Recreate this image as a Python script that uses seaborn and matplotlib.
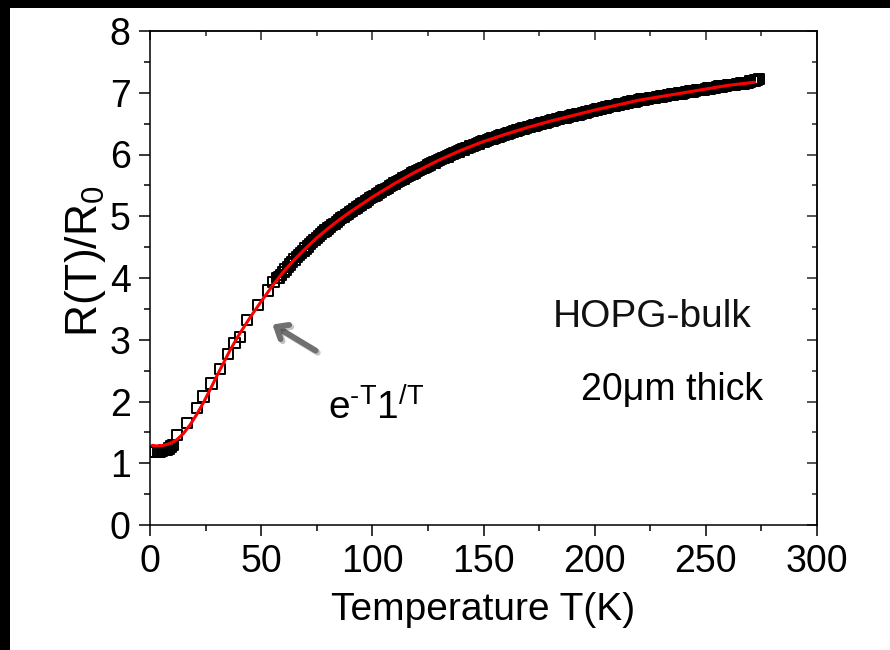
import matplotlib
matplotlib.use("Agg")
import matplotlib.pyplot as plt
import matplotlib.patheffects as pe
from matplotlib.patches import Rectangle
from matplotlib.ticker import MultipleLocator
import seaborn as sns

# ---- data ----
# sparse low-temperature measurements
T_low = [1.5, 2.5, 3.5, 4.5, 5.5, 6.5, 7.5, 8.5, 9.5, 10.5, 12.0, 16.5, 21.0, 24.0,
         27.7, 31.5, 35.0, 38.0, 40.5, 43.5, 48.7, 53.2, 55.5, 57.0]
R_low = [1.19, 1.18, 1.19, 1.19, 1.20, 1.21, 1.22, 1.24, 1.27, 1.30, 1.46, 1.65, 1.89, 2.08,
         2.29, 2.53, 2.77, 2.95, 3.05, 3.32, 3.56, 3.80, 3.94, 4.00]

# dense measurements (58 K .. 274 K)
T_dense = [58, 59, 60, 61, 62, 63, 64, 65, 66, 67, 68, 69, 70, 71, 72, 73, 74, 75, 76, 77,
           78, 79, 80, 81, 82, 83, 84, 85, 86, 87, 88, 89, 90, 91, 92, 93, 94, 95, 96, 97,
           98, 99, 100, 101, 102, 103, 104, 105, 106, 107, 108, 109, 110, 111, 112, 113,
           114, 115, 116, 117, 118, 119, 120, 121, 122, 123, 124, 125, 126, 127, 128, 129,
           130, 131, 132, 133, 134, 135, 136, 137, 138, 139, 140, 141, 142, 143, 144, 145,
           146, 147, 148, 149, 150, 151, 152, 153, 154, 155, 156, 157, 158, 159, 160, 161,
           162, 163, 164, 165, 166, 167, 168, 169, 170, 171, 172, 173, 174, 175, 176, 177,
           178, 179, 180, 181, 182, 183, 184, 185, 186, 187, 188, 189, 190, 191, 192, 193,
           194, 195, 196, 197, 198, 199, 200, 201, 202, 203, 204, 205, 206, 207, 208, 209,
           210, 211, 212, 213, 214, 215, 216, 217, 218, 219, 220, 221, 222, 223, 224, 225,
           226, 227, 228, 229, 230, 231, 232, 233, 234, 235, 236, 237, 238, 239, 240, 241,
           242, 243, 244, 245, 246, 247, 248, 249, 250, 251, 252, 253, 254, 255, 256, 257,
           258, 259, 260, 261, 262, 263, 264, 265, 266, 267, 268, 269, 270, 271, 272, 273, 274]
R_dense = [4.01, 4.05, 4.10,
           4.14, 4.18, 4.22, 4.26, 4.30, 4.34, 4.37, 4.41, 4.44, 4.48,
           4.51, 4.55, 4.58, 4.62, 4.65, 4.68, 4.71, 4.74, 4.77, 4.80,
           4.83, 4.86, 4.88, 4.91, 4.94, 4.97, 4.99, 5.02, 5.04, 5.07,
           5.09, 5.12, 5.14, 5.17, 5.19, 5.21, 5.24, 5.26, 5.29, 5.31,
           5.33, 5.35, 5.38, 5.40, 5.42, 5.44, 5.46, 5.49, 5.51, 5.53,
           5.55, 5.57, 5.59, 5.61, 5.63, 5.65, 5.67, 5.69, 5.71, 5.73,
           5.75, 5.77, 5.78, 5.80, 5.82, 5.84, 5.86, 5.87, 5.89, 5.91,
           5.93, 5.94, 5.96, 5.97, 5.99, 6.01, 6.02, 6.04, 6.05, 6.07,
           6.08, 6.10, 6.11, 6.13, 6.14, 6.15, 6.17, 6.18, 6.20, 6.21,
           6.22, 6.23, 6.25, 6.26, 6.27, 6.28, 6.29, 6.31, 6.32, 6.33,
           6.34, 6.35, 6.37, 6.38, 6.39, 6.40, 6.41, 6.42, 6.43, 6.44,
           6.45, 6.46, 6.47, 6.48, 6.49, 6.50, 6.51, 6.52, 6.53, 6.54,
           6.55, 6.56, 6.57, 6.58, 6.59, 6.60, 6.60, 6.61, 6.62, 6.63,
           6.64, 6.65, 6.65, 6.66, 6.67, 6.68, 6.69, 6.70, 6.71, 6.72,
           6.73, 6.74, 6.74, 6.75, 6.76, 6.77, 6.78, 6.78, 6.79, 6.80,
           6.81, 6.82, 6.82, 6.83, 6.84, 6.85, 6.86, 6.86, 6.87, 6.88,
           6.89, 6.89, 6.90, 6.90, 6.91, 6.92, 6.92, 6.93, 6.93, 6.94,
           6.95, 6.95, 6.96, 6.96, 6.97, 6.98, 6.98, 6.99, 6.99, 7.00,
           7.01, 7.01, 7.02, 7.02, 7.03, 7.04, 7.04, 7.05, 7.05, 7.06,
           7.07, 7.07, 7.08, 7.08, 7.09, 7.10, 7.10, 7.11, 7.11, 7.12,
           7.12, 7.13, 7.13, 7.14, 7.14, 7.15, 7.15, 7.16, 7.16, 7.18,
           7.19, 7.20, 7.21, 7.22]

# fitted curve (red)
T_fit = [1, 3, 6, 9, 12, 15, 18, 21, 24, 27, 30, 33, 36, 40, 45, 50, 55, 60, 65, 70, 75,
         80, 85, 90, 95, 100, 110, 120, 130, 140, 150, 160, 170, 180, 190, 200, 210, 220,
         230, 240, 250, 260, 272]
R_fit = [1.29, 1.28, 1.29, 1.32, 1.38, 1.48, 1.62, 1.79, 1.98, 2.19, 2.41, 2.62, 2.83,
         3.08, 3.36, 3.62, 3.87, 4.10, 4.30, 4.48, 4.65, 4.80, 4.94, 5.07, 5.19, 5.31,
         5.53, 5.73, 5.91, 6.07, 6.21, 6.33, 6.44, 6.54, 6.63, 6.72, 6.80, 6.88, 6.94,
         7.00, 7.06, 7.12, 7.17]

x_ticks = [0, 50, 100, 150, 200, 250, 300]
y_ticks = [0, 1, 2, 3, 4, 5, 6, 7, 8]

# ---- style ----
sns.set_theme(style="ticks")
plt.rcParams["font.family"] = ["Liberation Sans", "DejaVu Sans"]
plt.rcParams["mathtext.fontset"] = "custom"
plt.rcParams["mathtext.rm"] = "Liberation Sans"
plt.rcParams["mathtext.it"] = "Liberation Sans:italic"
plt.rcParams["mathtext.bf"] = "Liberation Sans:bold"

fig = plt.figure(figsize=(8.9, 6.5), dpi=100, facecolor="black")
bg = Rectangle((10 / 890, 0), 1, 642 / 650, transform=fig.transFigure,
               facecolor="white", edgecolor="none", zorder=-10)
fig.patches.append(bg)

ax = fig.add_axes([150 / 890, 125 / 650, 667 / 890, 494 / 650])
ax.set_zorder(1)
ax.set_facecolor("white")

sns.scatterplot(x=T_low + T_dense, y=R_low + R_dense, marker="s", s=55,
                facecolor="none", edgecolor="black", linewidth=1.4, ax=ax, zorder=2)
sns.lineplot(x=T_fit, y=R_fit, color="red", linewidth=2.2, sort=False,
             estimator=None, ax=ax, zorder=3)

ax.set_xlim(0, 300)
ax.set_ylim(0, 8)
ax.set_xticks(x_ticks)
ax.set_yticks(y_ticks)
ax.xaxis.set_minor_locator(MultipleLocator(25))
ax.yaxis.set_minor_locator(MultipleLocator(0.5))

for s in ax.spines.values():
    s.set_linewidth(1.1)
    s.set_color("black")

ax.tick_params(which="major", direction="out", length=8, width=1.1, labelsize=27,
               colors="black", pad=6)
ax.tick_params(which="minor", direction="out", length=4.3, width=1.1, colors="black")

top = ax.secondary_xaxis("top")
top.set_xticks(x_ticks)
top.xaxis.set_minor_locator(MultipleLocator(25))
top.tick_params(which="major", direction="in", length=6.5, width=1.1, labeltop=False)
top.tick_params(which="minor", direction="in", length=3.6, width=1.1)
top.spines["top"].set_linewidth(1.1)

right = ax.secondary_yaxis("right")
right.set_yticks(y_ticks)
right.yaxis.set_minor_locator(MultipleLocator(0.5))
right.tick_params(which="major", direction="in", length=7, width=1.1, labelright=False)
right.tick_params(which="minor", direction="in", length=3.6, width=1.1)
right.spines["right"].set_linewidth(1.1)

ax.set_xlabel("Temperature T(K)", fontsize=28, labelpad=8, color="black")
ax.set_ylabel("R(T)/R$_0$", fontsize=32, color="black")
ax.yaxis.set_label_coords(-0.063, 0.535)

ax.text(181.3, 3.21, "HOPG-bulk", fontsize=28, ha="left", va="baseline", color="#111111")
ax.text(193.9, 2.02, "20\u03bcm thick", fontsize=27, ha="left", va="baseline", color="black")
ax.text(80, 1.70, r"e$^{\text{-T}}$1$^{\text{/T}}$", fontsize=28, ha="left",
        va="baseline", color="black")

ax.annotate("", xy=(54, 3.27), xytext=(75.6, 2.80),
            arrowprops=dict(arrowstyle="->,head_length=0.6,head_width=0.5",
                            lw=4.2, color="#707070",
                            path_effects=[pe.SimpleLineShadow(offset=(1.5, -1.5),
                                                              alpha=0.25), pe.Normal()]))

fig.savefig("out.png", dpi=100, facecolor=fig.get_facecolor())
